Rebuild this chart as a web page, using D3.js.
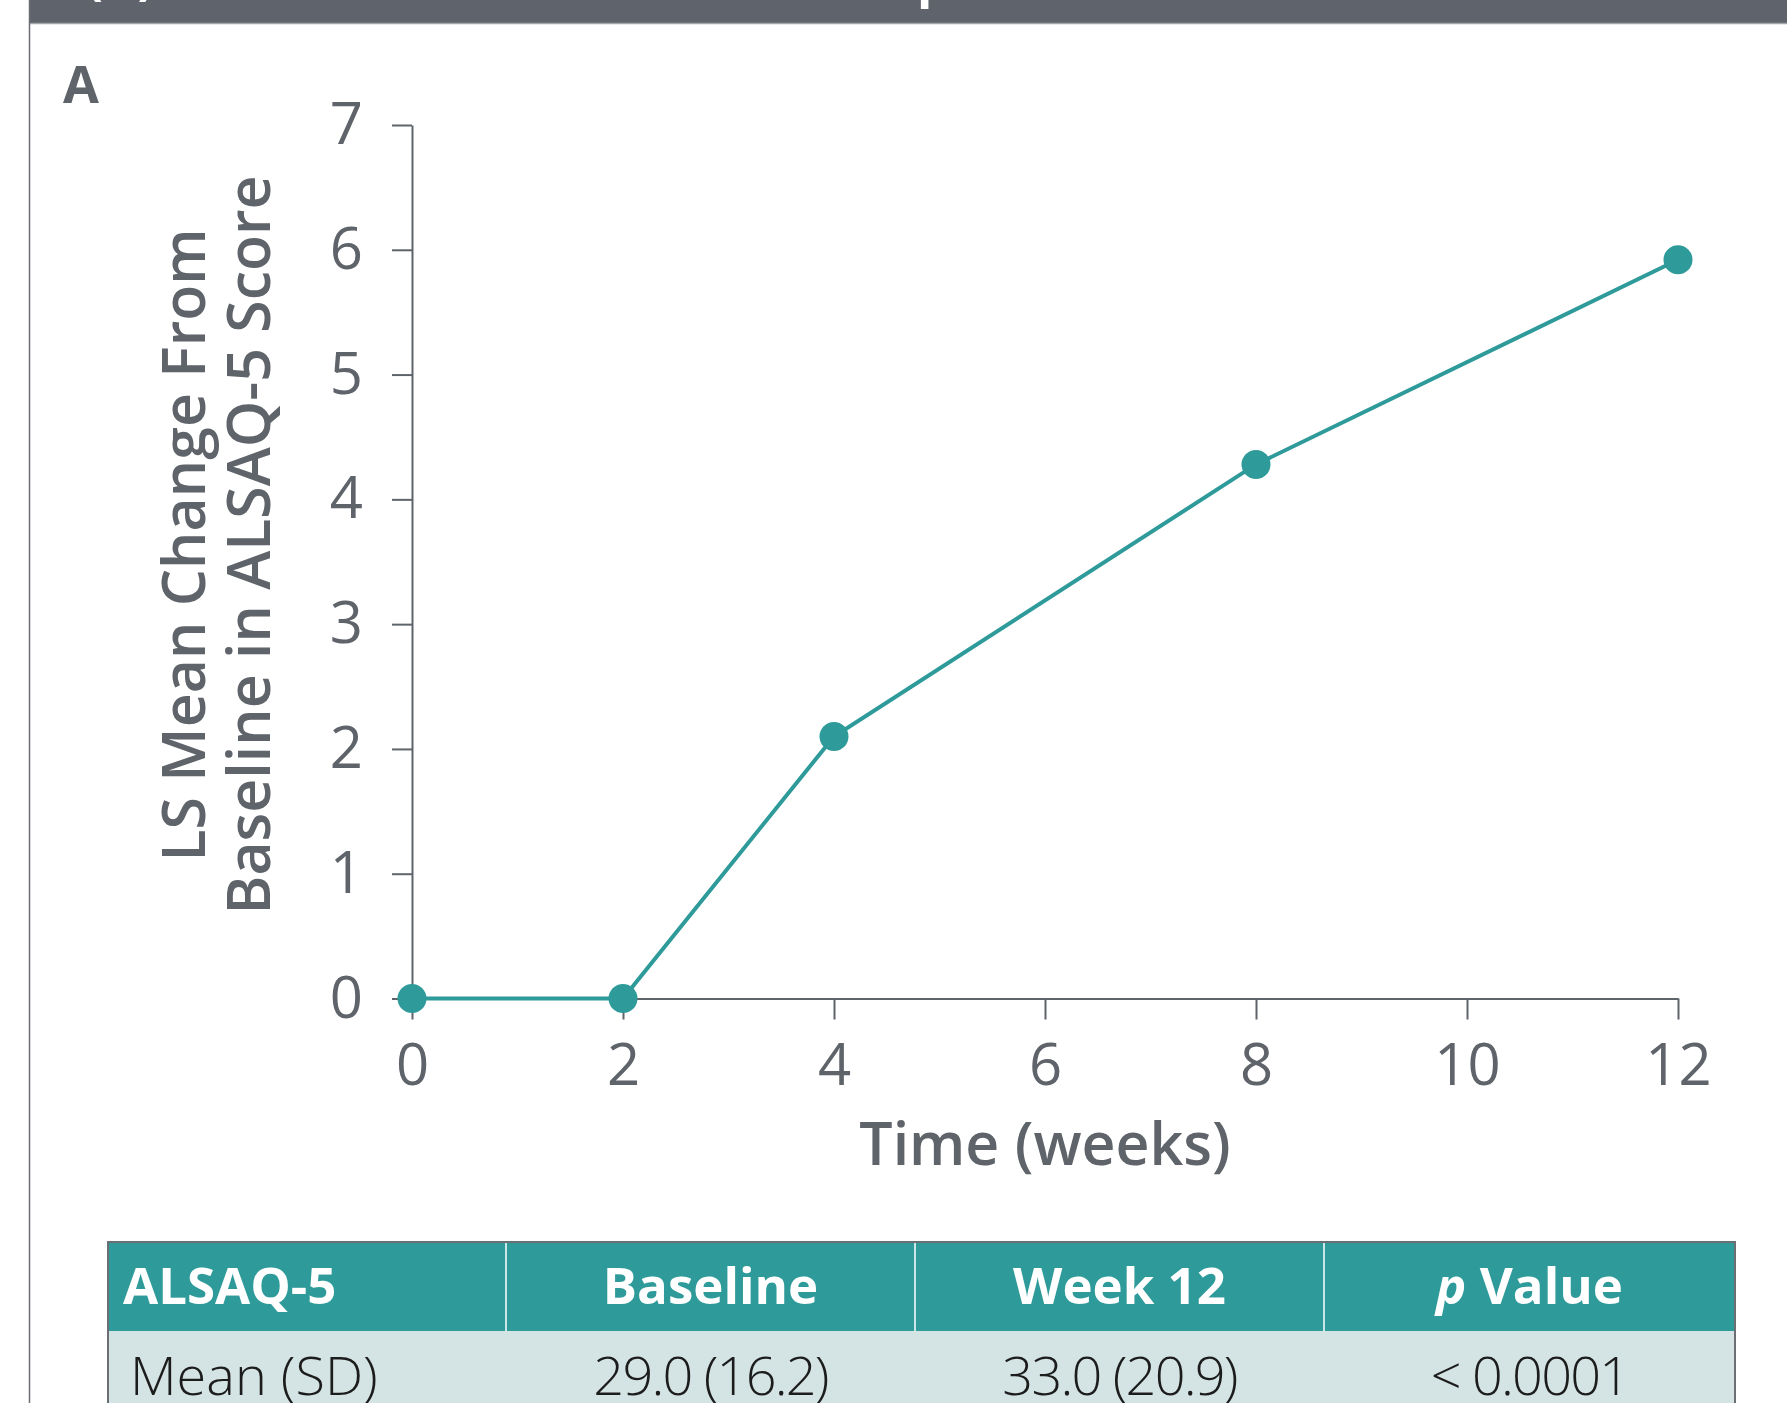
<!DOCTYPE html>
<html>
<head>
<meta charset="utf-8">
<script src="https://cdn.jsdelivr.net/npm/d3@7/dist/d3.min.js"></script>
<style>
  html, body { margin: 0; padding: 0; background: #ffffff; }
  svg { display: block; font-family: "Open Sans", sans-serif; }
</style>
</head>
<body>
<svg id="chart" width="1787" height="1403"></svg>
<script>
// ALSAQ-5 change from baseline over time
const weeks = [0, 2, 4, 8, 12];
const lsMeanChange = [0, 0, 2.1, 4.28, 5.92];
const xTicks = [0, 2, 4, 6, 8, 10, 12];
const yTicks = [0, 1, 2, 3, 4, 5, 6, 7];

// Summary table
const tableHeader = ["ALSAQ-5", "Baseline", "Week 12", "p Value"];
const tableRow = ["Mean (SD)", "29.0 (16.2)", "33.0 (20.9)", "< 0.0001"];

const W = 1787, H = 1403;
const TEAL = "#2e9a9a";
const GREY = "#5f636a";
const svg = d3.select("#chart");

// Header band and panel frame
svg.append("rect").attr("x", 30).attr("y", 0).attr("width", W - 30).attr("height", 23).attr("fill", "#5f636b");
svg.append("line").attr("x1", 30).attr("x2", W).attr("y1", 23.5).attr("y2", 23.5)
  .attr("stroke", "#a3a6ab").attr("stroke-width", 1.5);
svg.append("line").attr("x1", 29.5).attr("x2", 29.5).attr("y1", 0).attr("y2", H)
  .attr("stroke", "#6b6e73").attr("stroke-width", 1.5);

svg.append("clipPath").attr("id", "hdrClip").append("rect")
  .attr("x", 30).attr("y", 0).attr("width", W - 30).attr("height", 23);
const header = svg.append("g").attr("clip-path", "url(#hdrClip)");
header.append("text").attr("x", 86).attr("y", -6)
  .attr("fill", "#fff").attr("font-weight", 700).attr("font-size", 50).text("(A)");
header.append("text").attr("x", 917).attr("y", -3)
  .attr("fill", "#fff").attr("font-weight", 700).attr("font-size", 50).text("p");

// Panel letter
svg.append("text").attr("x", 63).attr("y", 103)
  .attr("fill", GREY).attr("font-weight", 700).attr("font-size", 52).text("A");

// Scales
const x = d3.scaleLinear().domain([0, 12]).range([412, 1678]);
const y = d3.scaleLinear().domain([0, 7]).range([998.5, 125]);

// Axes
const xAxis = svg.append("g").attr("transform", `translate(0,${y(0)})`)
  .call(d3.axisBottom(x).tickValues(xTicks).tickFormat(d3.format("d"))
    .tickSize(21).tickSizeOuter(0).tickPadding(24));
const yAxis = svg.append("g").attr("transform", `translate(${x(0)},0)`)
  .call(d3.axisLeft(y).tickValues(yTicks).tickFormat(d3.format("d"))
    .tickSize(20).tickSizeOuter(0).tickPadding(29));

[xAxis, yAxis].forEach(g => {
  g.select(".domain").attr("stroke", GREY).attr("stroke-width", 2);
  g.selectAll(".tick line").attr("stroke", GREY).attr("stroke-width", 2);
  g.selectAll(".tick text").attr("fill", GREY).attr("font-size", 58)
    .attr("font-family", "'Open Sans', sans-serif").attr("font-weight", 400);
});

// Axis titles
svg.append("text").attr("x", 1045).attr("y", 1165).attr("text-anchor", "middle")
  .attr("fill", GREY).attr("font-weight", 600).attr("font-size", 59).text("Time (weeks)");

const yTitle = svg.append("text")
  .attr("transform", "translate(0,545) rotate(-90)")
  .attr("text-anchor", "middle").attr("fill", GREY).attr("font-weight", 600).attr("font-size", 59);
yTitle.append("tspan").attr("x", 0).attr("y", 205).text("LS Mean Change From");
yTitle.append("tspan").attr("x", 0).attr("y", 270).text("Baseline in ALSAQ-5 Score");

// Line and markers
const pts = weeks.map((w, i) => [w, lsMeanChange[i]]);
svg.append("path").datum(pts)
  .attr("fill", "none").attr("stroke", TEAL).attr("stroke-width", 4)
  .attr("d", d3.line().x(d => x(d[0])).y(d => y(d[1])));
svg.selectAll("circle.pt").data(pts).join("circle").attr("class", "pt")
  .attr("cx", d => x(d[0])).attr("cy", d => y(d[1])).attr("r", 14.5).attr("fill", TEAL);

// Table
const tX = [108, 506, 915, 1324, 1735];
const tTop = 1242, tHeadBottom = 1331;
svg.append("rect").attr("x", tX[0]).attr("y", tTop).attr("width", tX[4] - tX[0]).attr("height", tHeadBottom - tTop).attr("fill", TEAL);
svg.append("rect").attr("x", tX[0]).attr("y", tHeadBottom).attr("width", tX[4] - tX[0]).attr("height", H - tHeadBottom).attr("fill", "#d4e3e3");
for (let i = 1; i < 4; i++) {
  svg.append("line").attr("x1", tX[i]).attr("x2", tX[i]).attr("y1", tTop).attr("y2", tHeadBottom)
    .attr("stroke", "#ffffff").attr("stroke-width", 1.5);
}
svg.append("path")
  .attr("d", `M${tX[0]},${H}V${tTop}H${tX[4]}V${H}`)
  .attr("fill", "none").attr("stroke", "#6b6e73").attr("stroke-width", 2);

tableHeader.forEach((h, i) => {
  const t = svg.append("text")
    .attr("x", i === 0 ? 123 : (tX[i] + tX[i + 1]) / 2)
    .attr("y", 1304).attr("text-anchor", i === 0 ? "start" : "middle")
    .attr("fill", "#ffffff").attr("font-weight", 700).attr("font-size", 51);
  if (h.startsWith("p ")) {
    t.append("tspan").attr("font-style", "italic").text("p");
    t.append("tspan").text(h.slice(1));
  } else {
    t.text(h);
  }
});
tableRow.forEach((v, i) => {
  svg.append("text")
    .attr("x", i === 0 ? 130 : (tX[i] + tX[i + 1]) / 2)
    .attr("y", 1395).attr("text-anchor", i === 0 ? "start" : "middle")
    .attr("letter-spacing", i === 0 ? 0 : -1.8)
    .attr("fill", "#1c1c1c").attr("font-weight", 300).attr("font-size", 54).text(v);
});
</script>
</body>
</html>
